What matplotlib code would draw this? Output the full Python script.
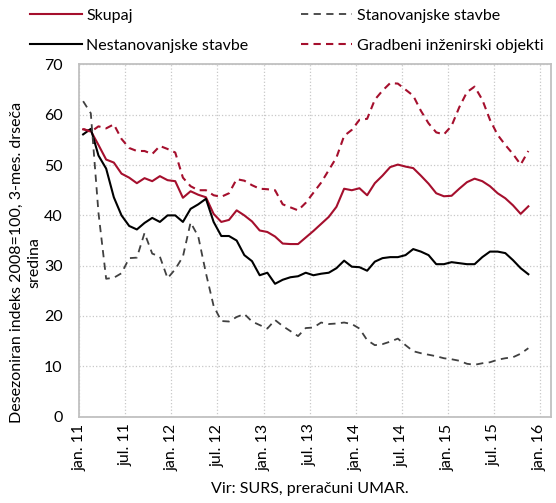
import numpy as np
import matplotlib
matplotlib.use('Agg')
import matplotlib.pyplot as plt

plt.rcParams['font.family'] = ['Lato', 'DejaVu Sans']

# mesečni podatki jan. 2011 - nov. 2015
skupaj = [57.1, 56.8, 54.0, 51.1, 50.5, 48.3, 47.5, 46.4, 47.4, 46.8,
          47.8, 47.0, 46.8, 43.5, 44.8, 44.1, 43.6, 40.3, 38.7, 39.1,
          41.0, 40.0, 38.8, 37.0, 36.7, 35.8, 34.4, 34.3, 34.3, 35.6,
          36.9, 38.3, 39.7, 41.7, 45.3, 45.0, 45.4, 44.0, 46.4, 47.9,
          49.6, 50.1, 49.7, 49.4, 47.9, 46.3, 44.4, 43.8, 43.9, 45.3,
          46.6, 47.3, 46.8, 45.8, 44.4, 43.4, 42.0, 40.3, 41.8]
nestanovanjske = [56.1, 57.2, 51.9, 49.3, 43.6, 40.0, 37.9, 37.2, 38.5, 39.5,
                  38.7, 40.0, 40.0, 38.7, 41.3, 42.2, 43.3, 38.7, 35.9, 35.9,
                  35.0, 32.1, 30.9, 28.1, 28.6, 26.4, 27.2, 27.7, 27.9, 28.6,
                  28.1, 28.4, 28.6, 29.5, 31.0, 29.8, 29.7, 29.0, 30.8, 31.5,
                  31.7, 31.7, 32.1, 33.3, 32.8, 32.1, 30.3, 30.3, 30.7, 30.5,
                  30.3, 30.3, 31.7, 32.8, 32.8, 32.5, 31.1, 29.5, 28.3]
stanovanjske = [62.7, 60.3, 40.5, 27.4, 27.6, 28.5, 31.5, 31.6, 36.5, 32.4,
                31.8, 27.5, 29.3, 31.8, 38.6, 35.8, 28.5, 22.0, 19.0, 18.9,
                19.8, 20.4, 18.9, 18.2, 17.5, 19.2, 18.0, 17.0, 16.0, 17.6,
                17.7, 18.7, 18.4, 18.5, 18.7, 18.4, 17.5, 15.2, 14.2, 14.4,
                14.9, 15.5, 14.2, 13.0, 12.6, 12.3, 12.0, 11.6, 11.4, 11.1,
                10.5, 10.3, 10.6, 10.8, 11.3, 11.6, 11.8, 12.5, 13.6]
gradbeni = [57.2, 56.6, 57.7, 57.3, 58.1, 55.2, 53.4, 52.8, 52.8, 52.2,
            53.8, 53.2, 52.5, 47.5, 45.8, 45.0, 45.0, 44.0, 43.7, 44.4,
            47.2, 46.9, 46.0, 45.3, 45.2, 45.0, 42.2, 41.6, 41.0, 42.5,
            44.5, 46.5, 49.0, 51.5, 55.8, 57.0, 59.0, 59.2, 63.0, 64.8,
            66.3, 66.2, 65.0, 63.8, 60.8, 58.3, 56.5, 56.1, 57.8, 61.5,
            64.5, 65.6, 63.0, 59.0, 56.0, 54.0, 52.2, 50.1, 52.8]
tick_labels = ['jan. 11', 'jul. 11', 'jan. 12', 'jul. 12', 'jan. 13', 'jul. 13',
               'jan. 14', 'jul. 14', 'jan. 15', 'jul. 15', 'jan. 16']

x = np.arange(len(skupaj)) + 0.5
red = '#a50f2d'

fig = plt.figure(figsize=(5.56, 5.03), dpi=100)
ax = fig.add_axes([0.1426, 0.1718, 0.8477, 0.700])

ax.plot(x, skupaj, color=red, lw=1.5, label='Skupaj')
ax.plot(x, nestanovanjske, color='black', lw=1.5, label='Nestanovanjske stavbe')
ax.plot(x, stanovanjske, color='#404040', lw=1.3, dashes=(4, 3), label='Stanovanjske stavbe')
ax.plot(x, gradbeni, color=red, lw=1.5, dashes=(3.5, 2.5), label='Gradbeni inženirski objekti')

ax.set_xlim(0, 61.4)
ax.set_ylim(0, 70)
ax.set_xticks(np.arange(0, 61, 6))
ax.set_xticklabels(tick_labels, rotation=90)
ax.set_yticks(np.arange(0, 71, 10))
ax.tick_params(axis='both', length=0, labelsize=11.5, colors='black')
ax.tick_params(axis='y', pad=12)
ax.tick_params(axis='x', pad=5)
ax.grid(True, color='#c8c8c8', linestyle=':', lw=0.9)
ax.set_axisbelow(True)
for s in ax.spines.values():
    s.set_color('#c0c0c0')
    s.set_linewidth(1.3)

fig.text(0.046, 0.478, 'Desezoniran indeks 2008=100, 3-mes. drseča\nsredina',
         rotation=90, ha='center', va='center', multialignment='center',
         fontsize=11.5, linespacing=1.25)

leg = fig.legend(loc='upper left', bbox_to_anchor=(0.029, 1.012), ncol=2,
                 frameon=False, fontsize=11.5, handlelength=3.2, handletextpad=0.3,
                 columnspacing=3.3, labelspacing=1.0)

fig.text(0.557, 0.027, 'Vir: SURS, preračuni UMAR.', ha='center', va='center', fontsize=11.5)

fig.savefig('out.png', dpi=100)
